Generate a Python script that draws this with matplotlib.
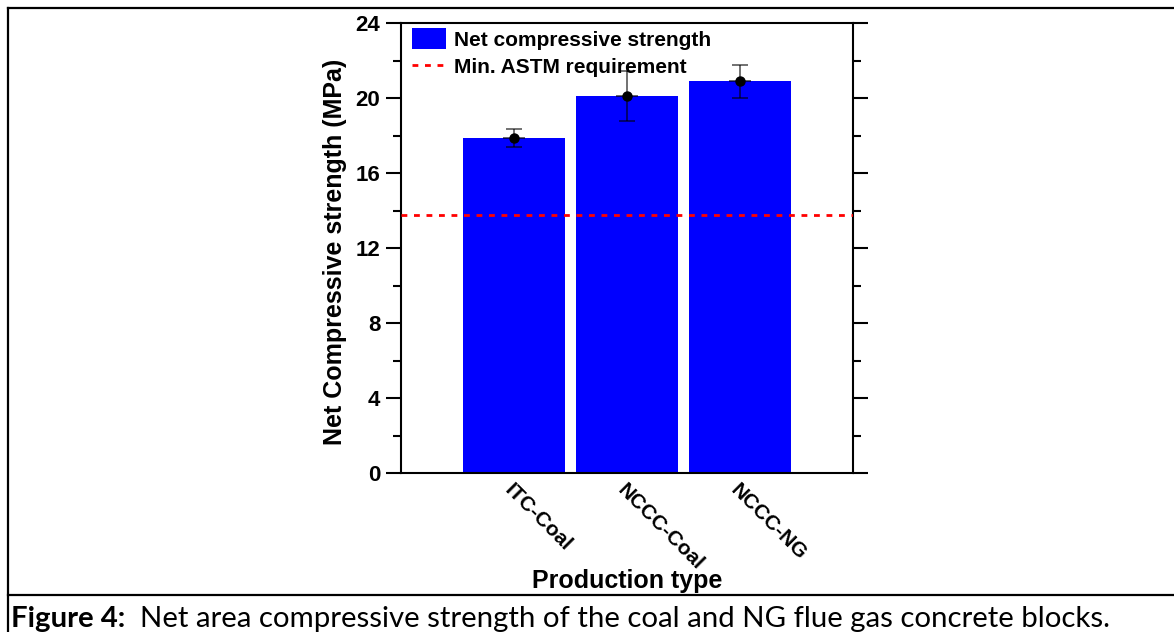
import matplotlib
matplotlib.use("Agg")
import matplotlib.pyplot as plt
from matplotlib.lines import Line2D
from matplotlib.patches import Patch
from matplotlib.ticker import MultipleLocator

plt.rcParams['font.family'] = ['Liberation Sans', 'DejaVu Sans']
plt.rcParams['font.weight'] = 'bold'

# values
categories = ['ITC-Coal', 'NCCC-Coal', 'NCCC-NG']
strength = [17.9, 20.1, 20.9]
strength_err = [0.48, 1.33, 0.87]
astm_min = 13.8
caption_bold = 'Figure 4:'
caption_text = '  Net area compressive strength of the coal and NG flue gas concrete blocks.'

W, H = 1174, 632
fig = plt.figure(figsize=(W / 100, H / 100), dpi=100)

# axes box in pixel terms (left 401, right 853, top 23.3, bottom 473.3)
ax = fig.add_axes([401 / W, 1 - 473.3 / H, 452 / W, 450 / H])

x = [1, 2, 3]
ax.bar(x, strength, width=0.9, color='#0000ff', zorder=2)
ax.plot(x, strength, '_', ms=16.5, mew=1.3, color=(0, 0, 0, 0.65), zorder=3)
ax.errorbar(x, strength, yerr=strength_err, fmt='o', color='k', ms=6.5,
            ecolor=(0, 0, 0, 0.6), elinewidth=1.3, capsize=5.8, capthick=1.3, zorder=4)
ax.axhline(astm_min, color='red', lw=2, ls=(0, (2.1, 2.4)), zorder=5)

ax.set_xlim(0, 4)
ax.set_ylim(0, 24)
ax.yaxis.set_major_locator(MultipleLocator(4))
ax.yaxis.set_minor_locator(MultipleLocator(2))
ax.set_xticks(x, categories, rotation=-45, ha='left', va='top',
              rotation_mode='anchor', fontsize=15, fontweight='bold')
ax.tick_params(axis='x', length=0, pad=5)
ax.tick_params(axis='y', which='major', direction='out', length=11, width=1.5,
               labelsize=16, right=True, pad=4)
ax.tick_params(axis='y', which='minor', direction='out', length=6, width=1.5, right=True)
for s in ax.spines.values():
    s.set_linewidth(1.5)

ax.set_ylabel('Net Compressive strength (MPa)', fontsize=18, fontweight='bold')
ax.yaxis.set_label_coords(-54 / 452, 0.5 - 4 / 450)
ax.set_xlabel('Production type', fontsize=18, fontweight='bold')
ax.xaxis.set_label_coords(0.5, -(569 - 473.3) / 450)

handles = [Patch(facecolor='#0000ff', label='Net compressive strength'),
           Line2D([], [], color='red', lw=2, ls=(0, (2.1, 2.4)), label='Min. ASTM requirement')]
ax.legend(handles=handles, loc='upper left', bbox_to_anchor=(11 / 452, 1 - 5 / 450),
          frameon=False, borderpad=0, borderaxespad=0, handlelength=1.65,
          handleheight=1.15, handletextpad=0.35, labelspacing=0.3,
          prop={'size': 15, 'weight': 'bold'})

# page frame lines and caption
def fx(px):
    return px / W

def fy(py):
    return 1 - py / H

fig.add_artist(Line2D([fx(7.5), fx(W)], [fy(8), fy(8)], color='k', lw=1.6))
fig.add_artist(Line2D([fx(7.5), fx(7.5)], [fy(8), fy(H)], color='k', lw=1.6))
fig.add_artist(Line2D([fx(7.5), fx(W)], [fy(594.5), fy(594.5)], color='k', lw=1.6))

t1 = fig.text(fx(11), fy(627), caption_bold, family='Lato', fontsize=21.2,
              fontweight='bold', ha='left', va='baseline')
fig.canvas.draw()
bb = t1.get_window_extent()
fig.text(bb.x1 / W, fy(627), caption_text, family='Lato', fontsize=21.2,
         fontweight='normal', ha='left', va='baseline')

fig.savefig('out.png', dpi=100)
